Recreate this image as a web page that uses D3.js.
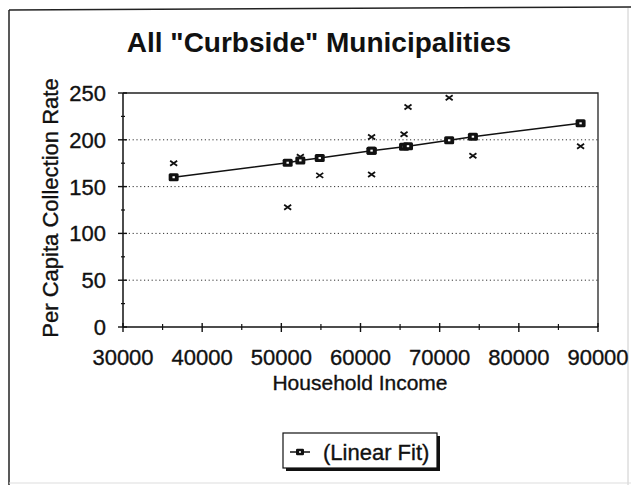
<!DOCTYPE html>
<meta charset="utf-8">
<style>
    body { margin: 0; background: #fff; }
    text { font-family: "Liberation Sans", Arial, sans-serif; fill: #111; }
    .lbl { stroke: #111; stroke-width: 0.35px; }
    .grid line { stroke: #333; stroke-dasharray: 1.2, 2.6; stroke-width: 1; }
</style>
<svg width="631" height="485"></svg>
<script src="https://cdn.jsdelivr.net/npm/d3@7"></script>
<script>

    // household income of each municipality
    var income = [36400, 50800, 52400, 54850, 61400, 61400, 65500, 66000, 71200, 74200, 87800];
    // observed per capita collection rate
    var rate = [175, 128, 182, 162, 203, 163, 206, 235, 245, 183, 193];
    // linear fit value at each income
    var fit = [160, 175.5, 178, 180.5, 188.4, 188.4, 192.6, 193.2, 199.5, 203.3, 217.6];

    var xTicks = [30000, 40000, 50000, 60000, 70000, 80000, 90000];
    var yTicks = [0, 50, 100, 150, 200, 250];

    var svg = d3.select("svg");

    var x = d3.scaleLinear().domain([30000, 90000]).range([123, 598]);
    var y = d3.scaleLinear().domain([0, 250]).range([327, 93]);

    // outer frame
    svg.append("line").attr("x1", 9).attr("y1", 10).attr("x2", 631).attr("y2", 7)
        .attr("stroke", "#222").attr("stroke-width", 1.5);
    svg.append("line").attr("x1", 9).attr("y1", 10).attr("x2", 9).attr("y2", 485)
        .attr("stroke", "#222").attr("stroke-width", 1.5);
    svg.append("line").attr("x1", 628).attr("y1", 8).attr("x2", 628).attr("y2", 485)
        .attr("stroke", "#ccc").attr("stroke-width", 1);
    svg.append("line").attr("x1", 9).attr("y1", 483).attr("x2", 631).attr("y2", 483)
        .attr("stroke", "#ddd").attr("stroke-width", 1);

    svg.append("text")
        .attr("x", 319).attr("y", 52)
        .attr("text-anchor", "middle")
        .attr("font-size", "28px")
        .attr("font-weight", "bold")
        .text('All "Curbside" Municipalities');

    // gridlines
    svg.append("g").attr("class", "grid")
        .selectAll("line")
        .data(yTicks.filter(function (d) { return d > 0 && d < 250; }))
        .enter().append("line")
        .attr("x1", x(30000) + 2).attr("x2", x(90000))
        .attr("y1", function (d) { return y(d); })
        .attr("y2", function (d) { return y(d); });

    // plot border top/right
    svg.append("path")
        .attr("d", "M" + x(30000) + "," + y(250) + "H" + x(90000) + "V" + y(0))
        .attr("fill", "none").attr("stroke", "#222").attr("stroke-width", 1.3);

    // axes
    var xAxis = svg.append("g").attr("transform", "translate(0," + y(0) + ")");
    xAxis.append("line").attr("x1", x(30000)).attr("x2", x(90000))
        .attr("stroke", "#111").attr("stroke-width", 1.5);
    xAxis.selectAll(".minor")
        .data(d3.range(35000, 90000, 10000))
        .enter().append("line")
        .attr("x1", function (d) { return x(d); }).attr("x2", function (d) { return x(d); })
        .attr("y1", -3).attr("y2", 3)
        .attr("stroke", "#111").attr("stroke-width", 1.2);
    xAxis.selectAll(".major")
        .data(xTicks)
        .enter().append("line")
        .attr("x1", function (d) { return x(d); }).attr("x2", function (d) { return x(d); })
        .attr("y1", -4).attr("y2", 5)
        .attr("stroke", "#111").attr("stroke-width", 1.4);
    xAxis.selectAll("text")
        .data(xTicks)
        .enter().append("text")
        .attr("class", "lbl")
        .attr("x", function (d) { return x(d); })
        .attr("y", 38)
        .attr("text-anchor", "middle")
        .attr("font-size", "22px")
        .text(function (d) { return d; });

    var yAxis = svg.append("g").attr("transform", "translate(" + x(30000) + ",0)");
    yAxis.append("line").attr("y1", y(0)).attr("y2", y(250))
        .attr("stroke", "#111").attr("stroke-width", 1.5);
    yAxis.selectAll(".minor")
        .data(d3.range(25, 250, 50))
        .enter().append("line")
        .attr("y1", function (d) { return y(d); }).attr("y2", function (d) { return y(d); })
        .attr("x1", -2).attr("x2", 2)
        .attr("stroke", "#111").attr("stroke-width", 1.2);
    yAxis.selectAll(".major")
        .data(yTicks)
        .enter().append("line")
        .attr("y1", function (d) { return y(d); }).attr("y2", function (d) { return y(d); })
        .attr("x1", -5).attr("x2", 4)
        .attr("stroke", "#111").attr("stroke-width", 1.4);
    yAxis.selectAll("text")
        .data(yTicks)
        .enter().append("text")
        .attr("class", "lbl")
        .attr("x", -17)
        .attr("y", function (d) { return y(d); })
        .attr("dy", "0.36em")
        .attr("text-anchor", "end")
        .attr("font-size", "22px")
        .text(function (d) { return d; });

    svg.append("text")
        .attr("class", "lbl")
        .attr("x", 360).attr("y", 390)
        .attr("text-anchor", "middle")
        .attr("font-size", "21px")
        .text("Household Income");

    svg.append("text")
        .attr("class", "lbl")
        .attr("transform", "translate(58,208) rotate(-90)")
        .attr("text-anchor", "middle")
        .attr("font-size", "22px")
        .text("Per Capita Collection Rate");

    // observed points
    var pts = income.map(function (d, i) { return { x: d, y: rate[i], f: fit[i] }; });

    svg.append("g").selectAll("path")
        .data(pts)
        .enter().append("path")
        .attr("transform", function (d) { return "translate(" + x(d.x) + "," + y(d.y) + ")"; })
        .attr("d", "M-3.5,-2.5L3.5,2.5M-3.5,2.5L3.5,-2.5")
        .attr("stroke", "#111").attr("stroke-width", 1.8)
        .attr("fill", "none");

    // linear fit
    var line = d3.line()
        .x(function (d) { return x(d.x); })
        .y(function (d) { return y(d.f); });

    svg.append("path")
        .datum(pts)
        .attr("d", line)
        .attr("fill", "none")
        .attr("stroke", "#111")
        .attr("stroke-width", 1.5);

    function square(g) {
        g.append("rect").attr("x", -5).attr("y", -4).attr("width", 10).attr("height", 8)
            .attr("rx", 1.5).attr("fill", "#111");
        g.append("rect").attr("x", -1.2).attr("y", -1).attr("width", 2.4).attr("height", 2)
            .attr("fill", "#fff");
    }

    svg.append("g").selectAll("g")
        .data(pts)
        .enter().append("g")
        .attr("transform", function (d) { return "translate(" + x(d.x) + "," + y(d.f) + ")"; })
        .each(function () { square(d3.select(this)); });

    // legend
    var lg = svg.append("g").attr("transform", "translate(283,433)");
    lg.append("rect").attr("x", 3).attr("y", 3).attr("width", 154).attr("height", 35).attr("fill", "#111");
    lg.append("rect").attr("x", 0).attr("y", 0).attr("width", 154).attr("height", 35)
        .attr("fill", "#fff").attr("stroke", "#111").attr("stroke-width", 1.2);
    lg.append("line").attr("x1", 7).attr("x2", 27).attr("y1", 19).attr("y2", 19)
        .attr("stroke", "#111").attr("stroke-width", 1.5);
    square(lg.append("g").attr("transform", "translate(17,19) scale(0.8)"));
    lg.append("text")
        .attr("class", "lbl")
        .attr("x", 40).attr("y", 19).attr("dy", "0.36em")
        .attr("font-size", "22px")
        .text("(Linear Fit)");

</script>
